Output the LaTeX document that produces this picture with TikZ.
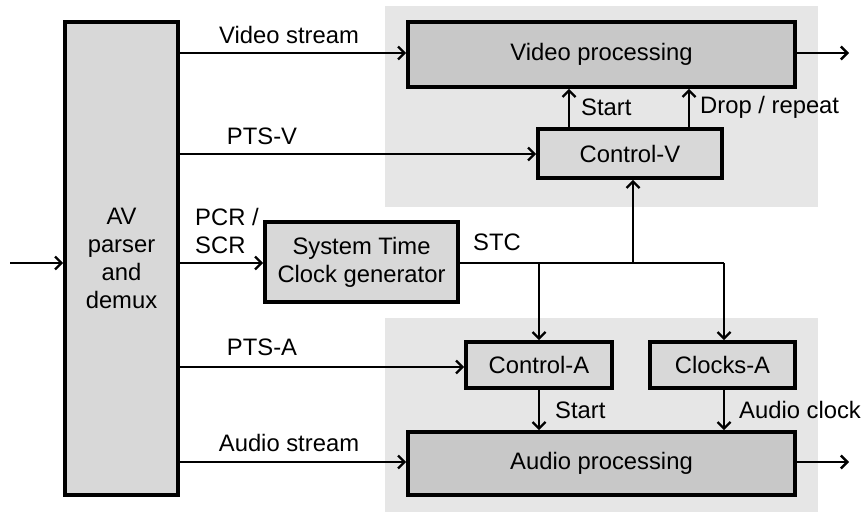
\documentclass[tikz,border=0pt]{standalone}
\usepackage{fontspec}
\setmainfont{Liberation Sans}
\usetikzlibrary{arrows.meta}
\definecolor{panelgray}{HTML}{E6E6E6}
\definecolor{lightbox}{HTML}{D8D8D8}
\definecolor{darkbox}{HTML}{C8C8C8}
\begin{document}
\begin{tikzpicture}[x=1pt,y=-1pt,
  txt/.style={font=\fontsize{23.8}{28}\selectfont},
  blk/.style={txt,draw=black,line width=3.6pt,inner sep=0pt,align=center},
  light/.style={blk,fill=lightbox},
  dark/.style={blk,fill=darkbox},
  panel/.style={fill=panelgray,draw=none},
  sig/.style={line width=2.4pt,-{Straight Barb[length=6.5pt,width=13pt,line width=2.4pt]}},
  wire/.style={line width=2.4pt},
  lbl/.style={txt,inner sep=0pt}]
\useasboundingbox[fill=white] (0,0) rectangle (864,513);

% shaded groups
\fill[panel] (385,6) rectangle (818,207);
\fill[panel] (385,318) rectangle (818,512);

% blocks
\node[light,minimum width=113pt,minimum height=473pt] (demux) at (121.5,258.5) {AV\\parser\\and\\demux};
\node[light,minimum width=193pt,minimum height=80pt] (stc) at (361.5,262) {System Time\\Clock generator};
\node[dark,minimum width=387pt,minimum height=65pt] (vproc) at (601.5,54.5) {Video processing};
\node[light,minimum width=184pt,minimum height=49pt] (ctlv) at (630,153.5) {Control-V};
\node[light,minimum width=146pt,minimum height=46pt] (ctla) at (539,365) {Control-A};
\node[light,minimum width=145pt,minimum height=46pt] (clka) at (722.5,365) {Clocks-A};
\node[dark,minimum width=387pt,minimum height=63pt] (aproc) at (601.5,463.5) {Audio processing};

% free ends and junctions
\coordinate (in) at (10,263);
\coordinate (vout) at (849,53);
\coordinate (aout) at (849,462);
\coordinate (jv) at (633,263);
\coordinate (ja) at (539,263);
\coordinate (jc) at (724,263);

% input and outputs
\draw[sig] (in) -- (in -| demux.west);
\draw[sig] (vproc.east |- vout) -- (vout);
\draw[sig] (aproc.east |- aout) -- (aout);

% demux outputs
\draw[sig] (demux.east |- 0,53) -- (vproc.west |- 0,53);
\draw[sig] (demux.east |- 0,154) -- (ctlv.west |- 0,154);
\draw[sig] (demux.east |- 0,263) -- (stc.west |- 0,263);
\draw[sig] (demux.east |- 0,367) -- (ctla.west |- 0,367);
\draw[sig] (demux.east |- 0,462) -- (vproc.west |- 0,462);

% system time clock distribution
\draw[wire] (stc.east |- jc) -- (jc);
\draw[sig] (jv) -- (jv |- ctlv.south);
\draw[sig] (ja) -- (ctla.north);
\draw[sig] (jc) -- (jc |- clka.north);

% control paths
\draw[sig] (ctlv.north -| 569,0) -- (vproc.south -| 569,0);
\draw[sig] (ctlv.north -| 689,0) -- (vproc.south -| 689,0);
\draw[sig] (ctla.south) -- (ctla.south |- aproc.north);
\draw[sig] (clka.south -| jc) -- (aproc.north -| jc);

% labels
\node[lbl] (lvs) at (289,35) {Video stream};
\node[lbl] (lptsv) at (262,136) {PTS-V};
\node[lbl,anchor=west,align=left] (lpcr) at (195,231) {PCR /\\SCR};
\node[lbl] (lstc) at (497,242) {STC};
\node[lbl] (lptsa) at (262,347) {PTS-A};
\node[lbl] (las) at (289,443) {Audio stream};
\node[lbl,anchor=west] (lsv) at (581,107) {Start};
\node[lbl,anchor=west] (ldrop) at (700,107) {Drop / repeat};
\node[lbl,anchor=west] (lsa) at (555,410) {Start};
\node[lbl,anchor=west] (lac) at (739,410) {Audio clock};
\end{tikzpicture}
\end{document}
